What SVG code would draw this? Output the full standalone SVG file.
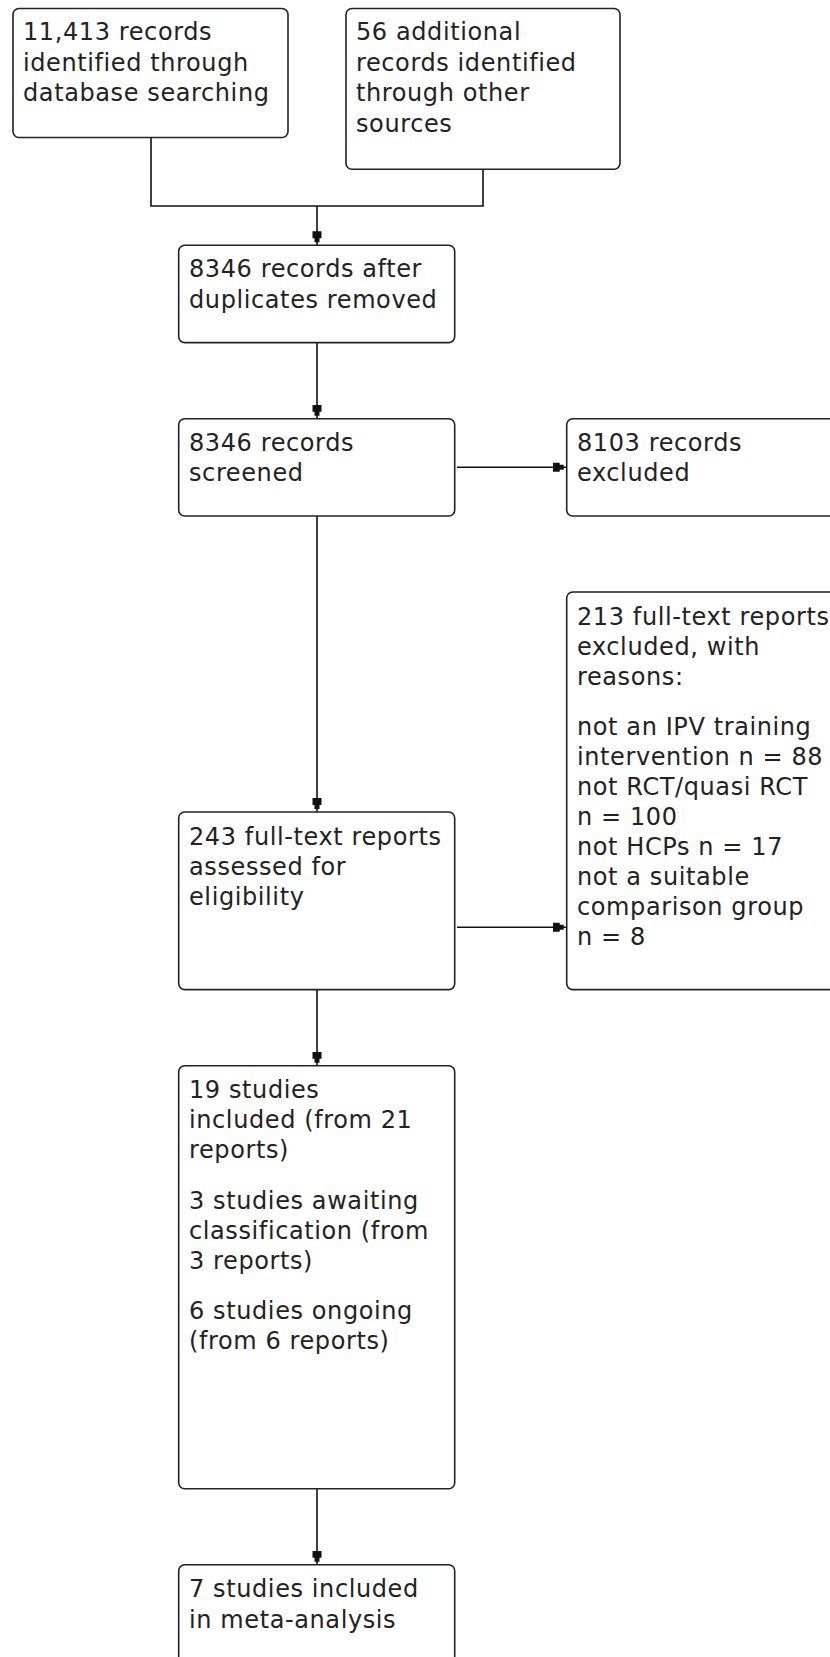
<svg xmlns="http://www.w3.org/2000/svg" width="830" height="1657" viewBox="0 0 830 1657">
<style>
.box{fill:#fff;stroke:#222;stroke-width:1.6}
.t{font-family:"DejaVu Sans",Verdana,sans-serif;font-size:24px;letter-spacing:0.6px;fill:#222}
.c{fill:none;stroke:#111;stroke-width:1.6}
</style>
<defs>
<marker id="ah" markerUnits="userSpaceOnUse" markerWidth="16" markerHeight="11" refX="14" refY="5.5" orient="auto">
<path d="M0,1 L7,1 L7,3 L11,3 L11,8 L7,8 L7,10 L0,10 z" fill="#111"/>
</marker>
</defs>
<rect width="830" height="1657" fill="#fff"/>
<g id="connectors">
<path class="c" d="M151,137.5 V206 H483 V169.2"/>
<path class="c" d="M317,206 V245.3" marker-end="url(#ah)"/>
<path class="c" d="M317,342.6 V418.7" marker-end="url(#ah)"/>
<path class="c" d="M457,467.3 H566.7" marker-end="url(#ah)"/>
<path class="c" d="M317,516 V812" marker-end="url(#ah)"/>
<path class="c" d="M457,927.3 H566.7" marker-end="url(#ah)"/>
<path class="c" d="M317,989.6 V1065.8" marker-end="url(#ah)"/>
<path class="c" d="M317,1488.7 V1564.8" marker-end="url(#ah)"/>
</g>
<g id="n1">
<rect class="box" x="13" y="8.5" width="275" height="129" rx="6"/>
<text class="t"><tspan x="23" y="40">11,413 records</tspan><tspan x="23" y="70.5">identified through</tspan><tspan x="23" y="101">database searching</tspan></text>
</g>
<g id="n2">
<rect class="box" x="346" y="8.5" width="274" height="160.7" rx="6"/>
<text class="t"><tspan x="356" y="40">56 additional</tspan><tspan x="356" y="70.5">records identified</tspan><tspan x="356" y="101">through other</tspan><tspan x="356" y="131.5">sources</tspan></text>
</g>
<g id="n3">
<rect class="box" x="178.7" y="245.3" width="276" height="97.3" rx="6"/>
<text class="t"><tspan x="189" y="277">8346 records after</tspan><tspan x="189" y="307.5">duplicates removed</tspan></text>
</g>
<g id="n4">
<rect class="box" x="178.7" y="418.7" width="276" height="97.3" rx="6"/>
<text class="t"><tspan x="189" y="450.5">8346 records</tspan><tspan x="189" y="481">screened</tspan></text>
</g>
<g id="n5">
<rect class="box" x="566.7" y="418.7" width="290" height="97.3" rx="6"/>
<text class="t"><tspan x="577" y="450.5">8103 records</tspan><tspan x="577" y="481">excluded</tspan></text>
</g>
<g id="n6">
<rect class="box" x="566.7" y="592" width="290" height="397.6" rx="6"/>
<text class="t"><tspan x="577" y="624.5">213 full-text reports</tspan><tspan x="577" y="654.5">excluded, with</tspan><tspan x="577" y="684.5">reasons:</tspan><tspan x="577" y="735">not an IPV training</tspan><tspan x="577" y="765">intervention n = 88</tspan><tspan x="577" y="795">not RCT/quasi RCT</tspan><tspan x="577" y="825">n = 100</tspan><tspan x="577" y="855">not HCPs n = 17</tspan><tspan x="577" y="885">not a suitable</tspan><tspan x="577" y="915">comparison group</tspan><tspan x="577" y="945">n = 8</tspan></text>
</g>
<g id="n7">
<rect class="box" x="178.7" y="812" width="276" height="177.6" rx="6"/>
<text class="t"><tspan x="189" y="844.5">243 full-text reports</tspan><tspan x="189" y="874.5">assessed for</tspan><tspan x="189" y="904.5">eligibility</tspan></text>
</g>
<g id="n8">
<rect class="box" x="178.7" y="1065.8" width="276" height="422.9" rx="6"/>
<text class="t"><tspan x="189" y="1098">19 studies</tspan><tspan x="189" y="1128">included (from 21</tspan><tspan x="189" y="1158">reports)</tspan><tspan x="189" y="1208.5">3 studies awaiting</tspan><tspan x="189" y="1238.5">classification (from</tspan><tspan x="189" y="1268.5">3 reports)</tspan><tspan x="189" y="1319">6 studies ongoing</tspan><tspan x="189" y="1349">(from 6 reports)</tspan></text>
</g>
<g id="n9">
<rect class="box" x="178.7" y="1564.8" width="276" height="120" rx="6"/>
<text class="t"><tspan x="189" y="1597">7 studies included</tspan><tspan x="189" y="1627.5">in meta-analysis</tspan></text>
</g>
</svg>
